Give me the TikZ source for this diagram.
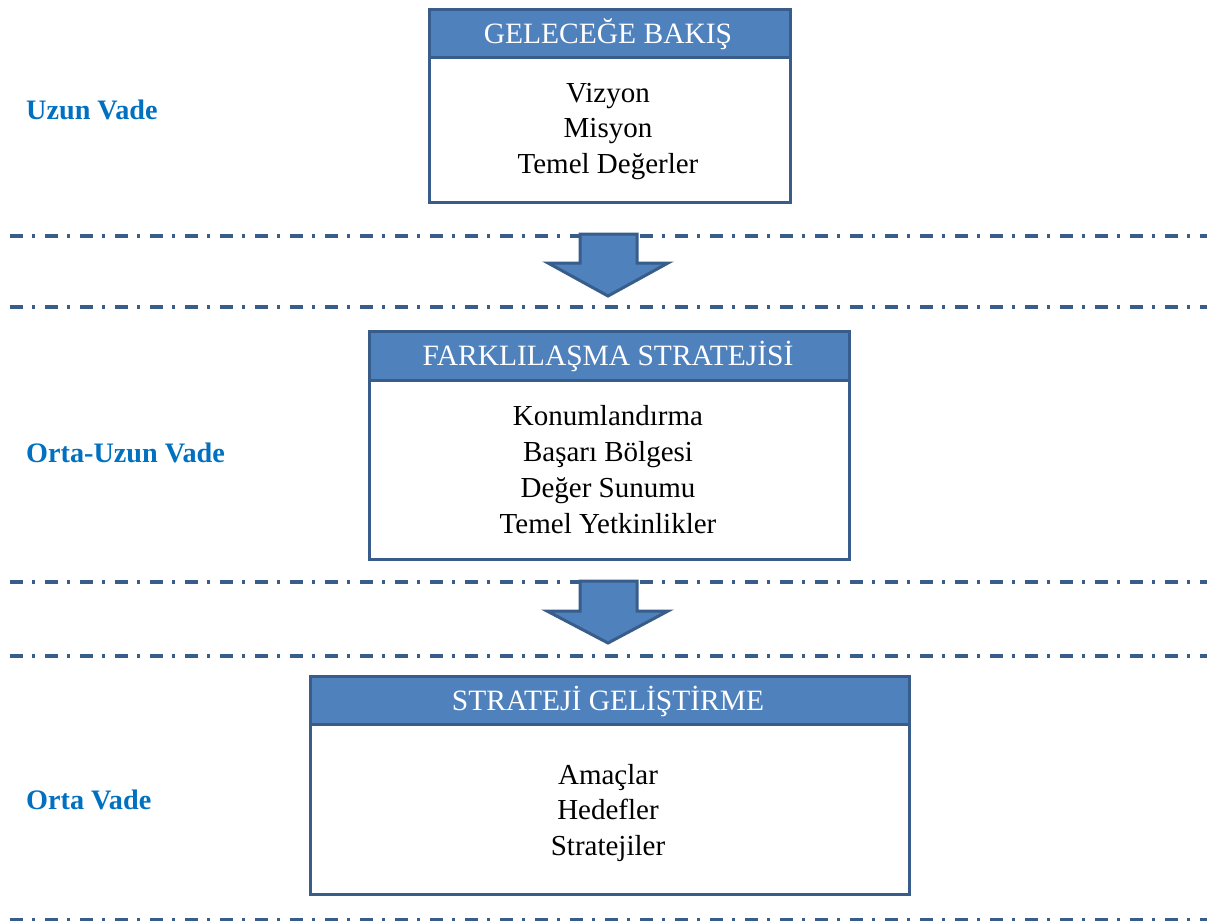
\documentclass[tikz,border=0pt]{standalone}
\usepackage{fontspec}
\setmainfont{Liberation Serif}
\definecolor{hdfill}{HTML}{4F81BD}
\definecolor{hdline}{HTML}{385D8A}
\definecolor{lblue}{HTML}{0070C0}
\begin{document}
\begin{tikzpicture}[x=1pt,y=-1pt,
  framebox/.style={draw=hdline, line width=3pt, fill=white, inner sep=0pt, anchor=north west},
  headbox/.style={draw=hdline, line width=3pt, fill=hdfill, inner sep=0pt, anchor=north west},
  headtxt/.style={text=white, font=\fontsize{29.5}{34}\selectfont, anchor=base, inner sep=0pt},
  bodytxt/.style={text=black, font=\fontsize{29}{34}\selectfont, anchor=base, inner sep=0pt},
  sidelbl/.style={text=lblue, font=\bfseries\fontsize{28.2}{32}\selectfont, anchor=base west, inner sep=0pt},
  sepline/.style={draw=hdline, line width=3.5pt, dash pattern=on 13pt off 9pt on 3pt off 10pt},
  blockarrow/.style={fill=hdfill, draw=hdline, line width=3pt, line join=miter}
]
\useasboundingbox (0,0) rectangle (1215,922);

% separator lines
\draw[sepline] (10,236) -- (1207,236);
\draw[sepline] (10,307) -- (1207,307);
\draw[sepline] (10,582) -- (1207,582);
\draw[sepline] (10,656) -- (1207,656);
\draw[sepline] (10,919.5) -- (1207,919.5);

% side labels
\node[sidelbl] (l1) at (26,119) {Uzun Vade};
\node[sidelbl] (l2) at (26,462) {Orta-Uzun Vade};
\node[sidelbl] (l3) at (26,809) {Orta Vade};

% box 1
\node[framebox, minimum width=361pt, minimum height=193pt] (b1) at (428,8) {};
\node[headbox, minimum width=361pt, minimum height=48pt] (h1) at (428,8) {};
\node[headtxt] (h1t) at (608,43) {GELECEĞE BAKIŞ};
\node[bodytxt] (b1a) at (608,102) {Vizyon};
\node[bodytxt] (b1b) at (608,137.5) {Misyon};
\node[bodytxt] (b1c) at (608,173) {Temel Değerler};

% arrow 1
\draw[blockarrow] (580,234) -- (637,234) -- (637,263) -- (668,263) -- (608,296) -- (548,263) -- (580,263) -- cycle;

% box 2
\node[framebox, minimum width=480pt, minimum height=228pt] (b2) at (368,330) {};
\node[headbox, minimum width=480pt, minimum height=49pt] (h2) at (368,330) {};
\node[headtxt] (h2t) at (608,365) {FARKLILAŞMA STRATEJİSİ};
\node[bodytxt] (b2a) at (608,425) {Konumlandırma};
\node[bodytxt] (b2b) at (608,461) {Başarı Bölgesi};
\node[bodytxt] (b2c) at (608,497) {Değer Sunumu};
\node[bodytxt] (b2d) at (608,533) {Temel Yetkinlikler};

% arrow 2
\draw[blockarrow] (580,581) -- (637,581) -- (637,611) -- (668,611) -- (608,643) -- (547,611) -- (580,611) -- cycle;

% box 3
\node[framebox, minimum width=599pt, minimum height=218pt] (b3) at (309,675) {};
\node[headbox, minimum width=599pt, minimum height=48pt] (h3) at (309,675) {};
\node[headtxt] (h3t) at (608,710) {STRATEJİ GELİŞTİRME};
\node[bodytxt] (b3a) at (608,784) {Amaçlar};
\node[bodytxt] (b3b) at (608,819.5) {Hedefler};
\node[bodytxt] (b3c) at (608,855) {Stratejiler};
\end{tikzpicture}
\end{document}
